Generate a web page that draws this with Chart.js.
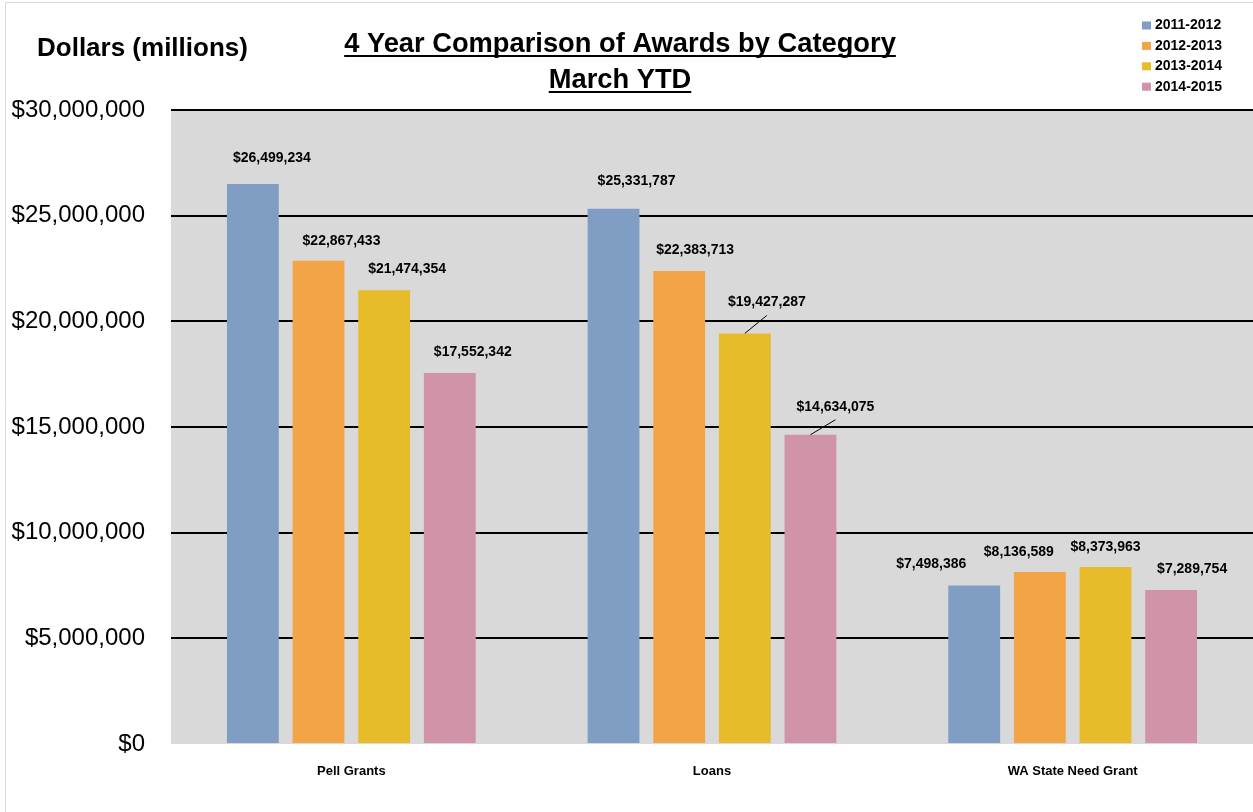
<!DOCTYPE html>
<html lang="en">
<head>
    <meta charset="UTF-8">
    <title>4 Year Comparison of Awards by Category</title>
    <script src="https://cdn.jsdelivr.net/npm/chart.js"></script>
    <style>
        body {
            margin: 0;
            padding: 0;
            background: #fff;
        }
        canvas {
            display: block;
        }
    </style>
</head>
<body>
    <canvas id="awardsChart" width="1253" height="812"></canvas>

    <script>
        // chart data
        const categories = ['Pell Grants', 'Loans', 'WA State Need Grant'];
        const seriesNames = ['2011-2012', '2012-2013', '2013-2014', '2014-2015'];
        const awards2011 = [26499234, 25331787, 7498386];
        const awards2012 = [22867433, 22383713, 8136589];
        const awards2013 = [21474354, 19427287, 8373963];
        const awards2014 = [17552342, 14634075, 7289754];
        const yTickValues = [0, 5000000, 10000000, 15000000, 20000000, 25000000, 30000000];

        const seriesColors = ['#809ec3', '#f3a447', '#e6bc2a', '#d193a7'];

        // where each value label sits relative to the top of its bar [dx, dy]
        const labelOffsets = [
            [[19, 26], [23, 28], [-43, 21]],
            [[23, 20], [16, 21], [-21, 20]],
            [[23, 21], [22, 31], [0, 20]],
            [[23, 21], [25, 28], [21, 21]]
        ];
        // labels that get a small leader line down to the bar
        const leaderLines = [[1, 2], [1, 3]];

        const fmt = v => '$' + v.toLocaleString('en-US');

        const decorPlugin = {
            id: 'decor',
            beforeDraw(chart) {
                const ctx = chart.ctx;
                const a = chart.chartArea;
                ctx.save();
                // light frame round the picture
                ctx.strokeStyle = '#d9d9d9';
                ctx.lineWidth = 1;
                ctx.beginPath();
                ctx.moveTo(5.5, chart.height);
                ctx.lineTo(5.5, 2.5);
                ctx.lineTo(chart.width, 2.5);
                ctx.stroke();
                // gray plot area
                ctx.fillStyle = '#d9d9d9';
                ctx.fillRect(a.left, a.top, a.right - a.left, a.bottom - a.top);
                ctx.restore();
            },
            afterDraw(chart) {
                const ctx = chart.ctx;
                ctx.save();
                ctx.fillStyle = '#000';
                ctx.strokeStyle = '#000';

                // title with underline
                ctx.font = 'bold 27.3px "Liberation Sans", Arial, sans-serif';
                ctx.textAlign = 'center';
                ctx.textBaseline = 'alphabetic';
                const titleLines = [['4 Year Comparison of Awards by Category', 52], ['March YTD', 88]];
                titleLines.forEach(([txt, y]) => {
                    ctx.fillText(txt, 620, y);
                    const w = ctx.measureText(txt).width;
                    ctx.lineWidth = 2;
                    ctx.beginPath();
                    ctx.moveTo(620 - w / 2, y + 4);
                    ctx.lineTo(620 + w / 2, y + 4);
                    ctx.stroke();
                });

                // axis caption
                ctx.font = 'bold 26px "Liberation Sans", Arial, sans-serif';
                ctx.textAlign = 'left';
                ctx.fillText('Dollars (millions)', 37, 56);

                // legend
                ctx.font = 'bold 14px "Liberation Sans", Arial, sans-serif';
                ctx.textBaseline = 'middle';
                seriesNames.forEach((name, i) => {
                    const y = 25.5 + i * 20.4;
                    ctx.fillStyle = seriesColors[i];
                    ctx.fillRect(1142, y - 4, 9, 8);
                    ctx.fillStyle = '#000';
                    ctx.fillText(name, 1155, y);
                });
                ctx.restore();
            },
            afterDatasetsDraw(chart) {
                const ctx = chart.ctx;
                ctx.save();
                ctx.font = 'bold 14px "Liberation Sans", Arial, sans-serif';
                ctx.textAlign = 'center';
                ctx.textBaseline = 'middle';
                ctx.fillStyle = '#000';
                chart.data.datasets.forEach((ds, i) => {
                    const meta = chart.getDatasetMeta(i);
                    meta.data.forEach((bar, j) => {
                        const [dx, dy] = labelOffsets[i][j];
                        const lx = bar.x + dx;
                        const ly = bar.y - dy;
                        ctx.fillText(fmt(ds.data[j]), lx, ly);
                        if (leaderLines.some(([c, s]) => c === j && s === i)) {
                            ctx.strokeStyle = '#000';
                            ctx.lineWidth = 1;
                            ctx.beginPath();
                            ctx.moveTo(bar.x, bar.y);
                            ctx.lineTo(lx, ly + 13);
                            ctx.stroke();
                        }
                    });
                });
                ctx.restore();
            }
        };

        const datasets = [awards2011, awards2012, awards2013, awards2014].map((vals, i) => ({
            label: seriesNames[i],
            data: vals,
            backgroundColor: seriesColors[i],
            categoryPercentage: 0.728,
            barPercentage: 0.79
        }));

        new Chart(document.getElementById('awardsChart').getContext('2d'), {
            type: 'bar',
            data: {
                labels: categories,
                datasets: datasets
            },
            options: {
                responsive: false,
                animation: false,
                devicePixelRatio: 1,
                layout: {
                    padding: { top: 110, left: 0, right: 0, bottom: 0 }
                },
                plugins: {
                    legend: { display: false },
                    title: { display: false },
                    tooltip: { enabled: false }
                },
                scales: {
                    x: {
                        afterFit(scale) { scale.height = 68; },
                        grid: { display: false },
                        border: { display: false },
                        ticks: {
                            padding: 12,
                            color: '#000',
                            font: { family: '"Liberation Sans", Arial, sans-serif', size: 13, weight: 'bold' }
                        }
                    },
                    y: {
                        min: 0,
                        max: 30000000,
                        afterFit(scale) { scale.width = 171; },
                        afterBuildTicks(scale) {
                            scale.ticks = yTickValues.map(v => ({ value: v }));
                        },
                        border: { display: false },
                        grid: {
                            drawTicks: false,
                            lineWidth: 2,
                            color: ctx => ctx.tick && ctx.tick.value === 0 ? 'rgba(0,0,0,0)' : '#000'
                        },
                        ticks: {
                            padding: 26,
                            color: '#000',
                            font: { family: '"Liberation Sans", Arial, sans-serif', size: 24 },
                            callback: v => fmt(v)
                        }
                    }
                }
            },
            plugins: [decorPlugin]
        });
    </script>
</body>
</html>
